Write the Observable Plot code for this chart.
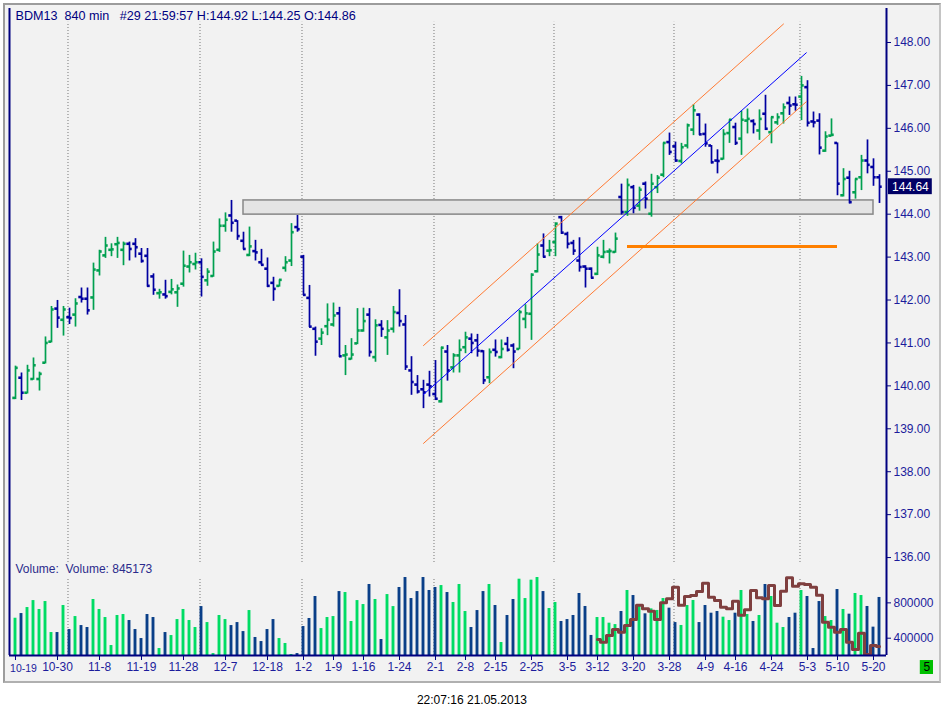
<!DOCTYPE html>
<html><head><meta charset="utf-8">
<script src="https://cdn.jsdelivr.net/npm/d3@7"></script>
<script src="https://cdn.jsdelivr.net/npm/@observablehq/plot@0.6"></script>
<style>
body{margin:0;background:#fff;width:944px;height:718px;position:relative;overflow:hidden;font-family:"Liberation Sans",Arial,sans-serif;}
#frame{position:absolute;left:3px;top:3px;width:938px;height:680px;box-sizing:border-box;background:#f2f2f2;border:2px solid #9c9c9c;border-right-color:#c4c4c4;border-bottom-color:#b0b0b0;}
#price,#vol{position:absolute;left:8px;}
#price{top:0}
#vol{top:562px}
#stamp{position:absolute;top:693px;left:0;width:944px;text-align:center;font-size:12px;color:#000;}
</style></head><body>
<div id="frame"></div>
<div id="price"></div>
<div id="vol"></div>
<div id="stamp">22:07:16 21.05.2013</div>
<script>
// ---------- DATA ----------
const symbolHeader = "BDM13\u00a0\u00a0840 min\u00a0\u00a0\u00a0#29 21:59:57 H:144.92 L:144.25 O:144.86";
const volumeHeader = "Volume:\u00a0\u00a0Volume: 845173";

const open = [139.72,140.19,139.84,140.16,140.16,140.54,141.03,141.80,141.54,141.60,
141.66,142.07,142.03,142.06,142.69,143.04,143.17,143.30,143.17,143.31,
143.31,143.08,143.03,142.55,142.16,142.13,142.19,142.18,142.38,142.78,
142.84,142.88,142.46,142.56,143.17,143.73,143.97,143.85,143.38,143.05,
143.14,142.88,142.73,142.40,142.33,142.75,142.92,143.70,143.01,142.05,
141.33,141.10,141.39,141.43,141.69,140.71,140.63,140.99,141.29,141.66,
140.67,141.42,141.13,141.33,141.70,141.43,140.36,140.03,139.92,140.03,
139.81,139.64,140.80,140.43,140.71,140.90,141.10,141.06,140.81,140.20,
140.84,140.67,140.98,140.94,140.86,141.56,141.68,142.67,143.27,143.15,
143.35,143.93,143.54,143.33,142.92,142.78,142.73,142.61,143.01,143.13,
143.12,144.40,144.05,144.63,144.20,144.71,144.01,144.63,144.92,145.68,
145.58,145.24,145.60,145.97,146.32,145.87,145.60,145.25,145.29,145.89,
146.03,145.76,146.18,146.17,145.95,146.34,145.91,146.14,146.35,146.59,
146.56,146.74,146.96,146.16,146.18,145.48,145.83,145.66,144.44,144.85,
144.51,144.86,145.25,145.10,144.86];
const high = [140.46,140.30,140.48,140.65,140.32,141.14,141.85,141.99,141.85,141.81,
142.03,142.28,142.28,142.86,143.16,143.46,143.31,143.46,143.35,143.35,
143.43,143.20,143.20,142.61,142.25,142.46,142.48,142.35,143.14,143.04,
143.09,142.96,142.73,143.35,143.89,144.03,144.32,143.85,143.58,143.70,
143.39,143.18,142.98,142.53,142.47,143.01,143.78,143.97,143.04,142.34,
141.37,141.33,141.91,141.93,141.83,140.94,141.10,141.80,141.81,141.80,
141.54,141.52,141.52,141.85,142.24,141.64,140.68,140.24,140.13,140.34,
140.59,140.90,140.94,140.75,141.07,141.25,141.21,141.20,140.82,140.86,
141.07,141.07,141.13,140.98,141.76,141.89,142.61,143.31,143.54,143.39,
143.79,143.95,143.58,143.39,143.45,142.80,142.75,143.23,143.39,143.19,
143.56,144.70,144.82,144.67,144.63,144.75,144.93,144.90,145.66,145.89,
145.68,145.65,146.10,146.55,146.34,146.10,145.60,145.50,145.97,146.20,
146.12,146.40,146.45,146.20,146.43,146.77,146.26,146.34,146.57,146.73,
146.73,147.21,147.11,146.38,146.34,145.92,146.22,145.66,145.06,145.00,
144.82,145.37,145.73,145.29,144.92];
const low = [139.68,139.66,139.81,140.13,139.88,140.51,141.00,141.34,141.16,141.43,
141.37,141.93,141.65,141.76,142.56,142.97,143.01,142.97,142.80,142.91,
142.98,142.86,142.30,142.11,142.02,142.02,142.12,141.83,142.30,142.63,
142.70,142.07,142.32,142.53,143.11,143.58,143.58,143.39,143.17,143.01,
142.91,142.80,142.29,141.97,142.30,142.65,142.78,143.58,142.10,141.36,
140.69,140.94,141.17,141.37,140.66,140.24,140.60,140.96,141.25,140.67,
140.55,141.13,140.71,141.23,141.37,140.36,139.78,139.81,139.47,139.74,
139.66,139.60,140.11,140.30,140.30,140.75,140.75,140.67,140.03,140.05,
140.67,140.63,140.79,140.40,140.84,141.33,141.06,142.63,142.98,143.01,
143.01,143.53,143.19,143.04,142.65,142.28,142.49,142.57,142.96,142.84,
143.09,143.98,143.95,144.01,144.07,144.12,143.93,144.48,144.85,145.37,
145.21,145.17,145.52,145.83,145.83,145.56,145.17,144.94,145.26,145.65,
145.60,145.37,145.87,145.87,145.72,145.95,145.64,146.07,146.10,146.30,
146.40,146.18,146.03,146.01,145.38,145.44,145.80,144.43,144.40,144.24,
144.35,144.55,144.94,144.65,144.25];
const close = [140.42,139.84,140.36,140.48,140.28,141.00,141.78,141.59,141.78,141.58,
141.92,142.03,141.76,142.71,143.13,143.27,143.18,143.33,143.31,143.19,
143.23,142.91,142.33,142.24,142.18,142.09,142.25,142.27,142.80,142.88,
142.88,142.54,142.66,143.13,143.73,143.87,143.80,143.49,143.19,143.25,
143.11,142.82,142.33,142.26,142.47,142.88,143.58,143.65,142.12,141.38,
141.03,141.24,141.54,141.64,140.69,140.73,140.73,141.29,141.51,140.79,
141.41,141.33,141.29,141.72,141.51,140.45,140.09,139.87,139.85,139.99,
139.70,140.89,140.36,140.71,140.84,141.13,141.00,140.82,140.13,140.79,
140.79,140.86,140.84,140.80,141.72,141.69,142.59,143.06,143.01,143.16,
143.78,143.57,143.31,143.15,142.77,142.73,142.52,143.04,143.12,143.14,
143.43,144.05,144.68,144.15,144.57,144.36,144.71,144.85,145.66,145.45,
145.25,145.56,146.07,146.42,145.86,145.65,145.21,145.24,145.87,146.20,
145.66,146.20,146.22,146.10,146.22,145.99,146.26,146.26,146.49,146.53,
146.55,147.00,146.13,146.14,145.55,145.81,145.85,144.71,144.82,144.28,
144.82,145.25,145.15,144.86,144.64];
const volume = [626,679,747,826,725,815,464,464,770,498,
645,543,521,838,725,634,317,657,668,600,
498,396,668,634,283,464,430,611,725,600,
521,758,577,226,657,611,543,577,475,713,
408,362,498,611,396,340,215,226,532,623,
872,509,634,645,928,917,589,826,781,1008,
838,385,894,758,974,1087,849,928,1087,940,
974,996,917,804,1008,702,521,713,928,1008,
770,351,657,838,1068,849,1057,1087,928,736,
804,589,611,657,906,759,431,634,634,570,
554,702,940,883,770,676,732,714,849,740,
577,544,770,827,577,770,683,702,638,600,
683,940,668,589,657,1008,872,570,521,634,
683,940,872,283,815,645,600,951,725,672,
906,883,759,525,861].map(v => v * 1000);
const volumeAvgStart = 97;
const volumeAvg = [385,355,430,498,468,544,612,774,733,706,612,800,846,977,774,872,
883,929,1023,864,827,751,733,819,660,721,940,857,846,997,770,932,
1084,989,1016,1008,977,887,581,525,468,498,355,272,457,215,317,306].map(v => v * 1000);

const dateTickBars = [0,7,14,21,28,35,42,48,53,58,64,70,75,80,86,92,97,103,109,115,120,126,132,137,143];
const dateTickLabels = ["10-19","10-30","11-8","11-19","11-28","12-7","12-18","1-2","1-9","1-16","1-24","2-1","2-8","2-15","2-25","3-5","3-12","3-20","3-28","4-9","4-16","4-24","5-3","5-10","5-20"];
const monthBreaks = [8.75,30.75,47.75,69.75,89.75,109.75,130.75];
const priceTicks = [136,137,138,139,140,141,142,143,144,145,146,147,148];
const volumeTicks = [400000, 800000];

const zone = {from: 38, to: 143, low: 143.99, high: 144.32};
const level = {from: 102, to: 137, price: 143.25};
const trend = [{i: 68, p: 139.80}, {i: 131.8, p: 147.76}];
const upperBand = [{i: 68, p: 140.94}, {i: 128, p: 148.43}];
const lowerBand = [{i: 68, p: 138.66}, {i: 131.8, p: 146.62}];
const panelId = "5";

// ---------- STYLE ----------
const navy = "#000080";
const axisText = "#1c1c9c";
const upColor = "#00a050", downColor = "#0000a0";
const volUp = "#00dc64", volDown = "#0a3f88";
const N = close.length;
const idx = d3.range(N);
const xDomain = [-1, 145.1667];
const isUp = i => close[i] >= open[i];
const baseStyle = {background: "transparent", fontFamily: "'Liberation Sans', Arial, sans-serif", fontSize: "12px", maxWidth: "none"};
const yTop = 148.792, yBot = 135.885;

const price = Plot.plot({
  width: 936, height: 562, marginLeft: 1, marginRight: 58, marginTop: 8, marginBottom: 0,
  style: {...baseStyle, overflow: "visible"},
  x: {domain: xDomain, axis: null},
  y: {domain: [yBot, yTop]},
  marks: [
    Plot.ruleX(monthBreaks, {y1: yBot, y2: 148.47, stroke: "#777", strokeDasharray: "1,2"}),
    Plot.rect([zone], {x1: "from", x2: "to", y1: "low", y2: "high", fill: "#e4e4e4", stroke: "#888", strokeWidth: 1.5}),
    Plot.ruleX(idx, {x: i => i, y1: i => low[i], y2: i => high[i], stroke: i => isUp(i) ? upColor : downColor, strokeWidth: 1.7}),
    Plot.ruleY(idx, {x1: i => i - 0.45, x2: i => i, y: i => open[i], stroke: i => isUp(i) ? upColor : downColor, strokeWidth: 2.6}),
    Plot.ruleY(idx, {x1: i => i, x2: i => i + 0.45, y: i => close[i], stroke: i => isUp(i) ? upColor : downColor, strokeWidth: 2.6}),
    Plot.line(trend, {x: "i", y: "p", stroke: "#0000ff", strokeWidth: 1}),
    Plot.line(upperBand, {x: "i", y: "p", stroke: "#ff7a33", strokeWidth: 1}),
    Plot.line(lowerBand, {x: "i", y: "p", stroke: "#ff7a33", strokeWidth: 1}),
    Plot.ruleY([level], {x1: "from", x2: "to", y: "price", stroke: "#ff8000", strokeWidth: 3}),
    Plot.ruleX([xDomain[0]], {y1: yBot, y2: yTop, stroke: navy, strokeWidth: 2}),
    Plot.ruleX([xDomain[1]], {y1: yBot, y2: yTop, stroke: navy, strokeWidth: 2}),
    Plot.axisY(priceTicks, {anchor: "right", tickFormat: d => d.toFixed(2), tickSize: 4, tickPadding: 3, color: axisText, stroke: navy, label: null, fontSize: 12}),
    Plot.rect([close[N - 1]], {x1: 145.5, x2: 152.8, y1: d => d - 0.185, y2: d => d + 0.185, fill: "#000066"}),
    Plot.text([close[N - 1]], {x: 149.15, y: d => d, text: d => d.toFixed(2), fill: "white", fontSize: 12}),
    Plot.text([symbolHeader], {x: 0, y: 148.63, text: d => d, textAnchor: "start", fill: navy, fontSize: 12.6})
  ]
});
document.getElementById("price").append(price);

const vBot = 204000, vTop = 1257000;
const avgData = volumeAvg.map((v, j) => ({i: volumeAvgStart + j, v}));
const labelMap = new Map(dateTickBars.map((b, j) => [b, dateTickLabels[j]]));
const firstTick = dateTickBars[0];
const vol = Plot.plot({
  width: 936, height: 118, marginLeft: 1, marginRight: 58, marginTop: 0, marginBottom: 25,
  style: {...baseStyle, overflow: "hidden"},
  x: {domain: xDomain},
  y: {domain: [vBot, vTop]},
  marks: [
    Plot.ruleX(monthBreaks, {y1: vBot, y2: 1076000, stroke: "#777", strokeDasharray: "1,2"}),
    Plot.rect(idx, {x1: i => i - 0.24, x2: i => i + 0.24, y1: vBot, y2: i => volume[i], fill: i => isUp(i) ? volUp : volDown}),
    Plot.line(avgData, {x: "i", y: "v", curve: "step", stroke: "#7f3f3f", strokeWidth: 3}),
    Plot.ruleY([vBot], {x1: xDomain[0], x2: xDomain[1], stroke: navy, strokeWidth: 2}),
    Plot.ruleX([xDomain[0]], {y1: vBot, y2: vTop, stroke: navy, strokeWidth: 2}),
    Plot.ruleX([xDomain[1]], {y1: vBot, y2: vTop, stroke: navy, strokeWidth: 2}),
    Plot.axisY(volumeTicks, {anchor: "right", tickFormat: d => String(d), tickSize: 4, tickPadding: 3, color: axisText, stroke: navy, label: null, fontSize: 12}),
    Plot.axisX(dateTickBars, {anchor: "bottom", tickFormat: d => d === firstTick ? "" : labelMap.get(d), tickSize: 5, tickPadding: 2, color: axisText, stroke: navy, label: null, fontSize: 12}),
    Plot.text([labelMap.get(firstTick)], {x: xDomain[0] + 0.1, y: vBot, dy: 13, text: d => d, textAnchor: "start", fill: axisText, fontSize: 10.5}),
    Plot.text([volumeHeader], {x: 0, y: 1178000, text: d => d, textAnchor: "start", fill: "#2b2b8c", fontSize: 12}),
    Plot.rect([panelId], {x1: 150.8, x2: 153.0, y1: -11000, y2: 147000, fill: "#00c000"}),
    Plot.text([panelId], {x: 151.9, y: 68000, text: d => d, fill: "#000", fontSize: 12})
  ]
});
document.getElementById("vol").append(vol);
</script>
</body></html>
